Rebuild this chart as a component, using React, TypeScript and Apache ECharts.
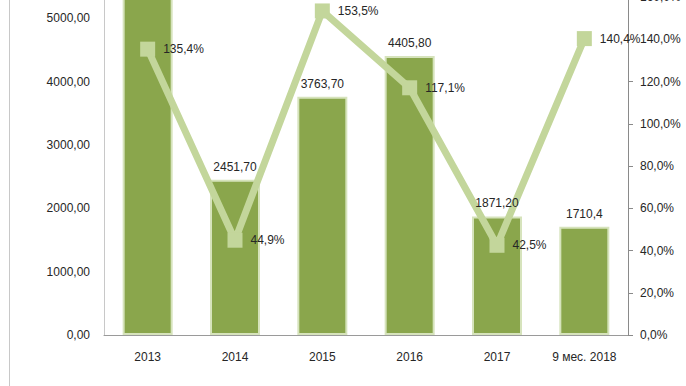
import React, { useEffect, useRef } from "react";
import * as echarts from "echarts";

const categories = ["2013", "2014", "2015", "2016", "2017", "9 мес. 2018"];
const barValues = [5460.4, 2451.7, 3763.7, 4405.8, 1871.2, 1710.4];
const barDecimals = [2, 2, 2, 2, 2, 1];
const growthPercent = [135.4, 44.9, 153.5, 117.1, 42.5, 140.4];

const FONT = "Liberation Sans";
const OFFSET = 45;

const fmt = (v: number, d: number) => v.toFixed(d).replace(".", ",");

export default function App() {
  const ref = useRef<HTMLDivElement>(null);
  useEffect(() => {
    if (!ref.current) return;
    const chart = echarts.init(ref.current, undefined, { renderer: "svg" });
    chart.setOption({
      animation: false,
      backgroundColor: "#ffffff",
      textStyle: { fontFamily: FONT },
      grid: { left: 104, right: 58, top: 0, bottom: 51, containLabel: false },
      graphic: [
        {
          type: "line",
          shape: { x1: 9.5, y1: OFFSET, x2: 9.5, y2: 386 + OFFSET },
          style: { stroke: "#c8c8c8", lineWidth: 1 },
          silent: true,
        },
      ],
      xAxis: {
        type: "category",
        data: categories,
        axisLine: { show: true, lineStyle: { color: "#9a9a9a", width: 1 } },
        axisTick: { show: false },
        axisLabel: { color: "#262626", fontSize: 12, fontFamily: FONT, margin: 16 },
      },
      yAxis: [
        {
          type: "value",
          min: 0,
          max: 6000,
          interval: 1000,
          position: "left",
          axisLine: { show: true, lineStyle: { color: "#c8c8c8", width: 1 } },
          axisTick: { show: false },
          splitLine: { show: false },
          axisLabel: {
            color: "#262626",
            fontSize: 12,
            fontFamily: FONT,
            margin: 14,
            showMaxLabel: false,
            formatter: (v: number) => fmt(v, 2),
          },
        },
        {
          type: "value",
          min: 0,
          max: 180,
          interval: 20,
          position: "right",
          axisLine: { show: true, lineStyle: { color: "#8a8a8a", width: 1 } },
          axisTick: { show: true, length: 5, inside: false, lineStyle: { color: "#8a8a8a" } },
          splitLine: { show: false },
          axisLabel: {
            color: "#262626",
            fontSize: 12,
            fontFamily: FONT,
            margin: 12,
            showMaxLabel: false,
            formatter: (v: number) => fmt(v, 1) + "%",
          },
        },
      ],
      series: [
        {
          type: "bar",
          yAxisIndex: 0,
          data: barValues,
          barWidth: 50,
          barGap: "-100%",
          itemStyle: { color: "#8aa64c", borderColor: "#d6e3bc", borderWidth: 2 },
          z: 2,
        },
        {
          type: "line",
          yAxisIndex: 1,
          data: growthPercent,
          symbol: "rect",
          symbolSize: 15,
          lineStyle: { color: "#c3d69b", width: 7 },
          itemStyle: { color: "#c3d69b" },
          label: {
            show: true,
            position: "right",
            distance: 8,
            color: "#262626",
            fontSize: 12,
            fontFamily: FONT,
            formatter: (p: any) => fmt(growthPercent[p.dataIndex], 1) + "%",
          },
          z: 3,
        },
        {
          type: "bar",
          yAxisIndex: 0,
          data: barValues,
          barWidth: 50,
          barGap: "-100%",
          silent: true,
          itemStyle: { color: "rgba(0,0,0,0)", borderWidth: 0 },
          label: {
            show: true,
            position: "top",
            distance: 7,
            color: "#262626",
            fontSize: 12,
            fontFamily: FONT,
            formatter: (p: any) => fmt(barValues[p.dataIndex], barDecimals[p.dataIndex]),
          },
          z: 4,
        },
      ],
    });
    return () => chart.dispose();
  }, []);
  return (
    <div
      ref={ref}
      style={{ position: "fixed", left: 0, top: -OFFSET, width: 686, height: 386 + OFFSET }}
    />
  );
}
